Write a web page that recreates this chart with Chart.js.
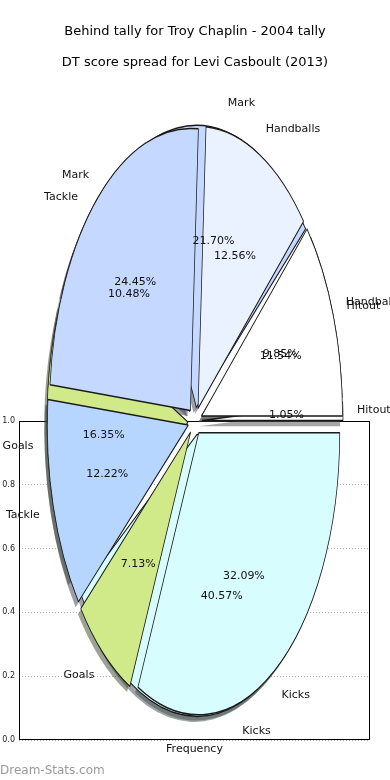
<!DOCTYPE html>
<html>
<head>
<meta charset="utf-8">
<script src="https://cdn.jsdelivr.net/npm/chart.js@4.4.1/dist/chart.umd.min.js"></script>
<style>
  html, body { margin: 0; padding: 0; background: #fff; }
  #wrap { position: relative; width: 390px; height: 780px; overflow: hidden; font-family: "DejaVu Sans", sans-serif; }
  canvas { position: absolute; left: 0; top: 0; }
  .title { position: absolute; left: 0; width: 390px; text-align: center; font-size: 13px; line-height: 15px; color: #000; }
  #mark { position: absolute; left: 0; top: 763px; font-size: 12px; line-height: 14px; color: #9a9a9a; }
</style>
</head>
<body>
<div id="wrap">
  <canvas id="axesChart" width="390" height="780"></canvas>
  <canvas id="pieChart" width="390" height="780"></canvas>
  <div class="title" style="top:23px">Behind tally for Troy Chaplin - 2004 tally</div>
  <div class="title" style="top:54px">DT score spread for Levi Casboult (2013)</div>
  <div id="mark">Dream-Stats.com</div>
</div>
<script>
// slices in the order chart.js draws them (clockwise from east)
const sliceLabels = ["Kicks", "Goals", "Tackle", "Mark", "Handballs", "Hitout"];
const behindTally = [40.57, 16.35, 10.48, 21.7, 9.85, 1.05];
const dtSpread = [32.09, 7.13, 12.22, 24.45, 12.56, 11.54];
const sliceColors = ["#d8fdff", "#d0ea8a", "#b7d6ff", "#c5d8ff", "#eaf1ff", "#ffffff"];
const yTicks = [0, 0.2, 0.4, 0.6, 0.8, 1.0];

Chart.defaults.font.family = "'DejaVu Sans', sans-serif";

const R = 141;        // pie radius before stretching
const EXPLODE = 7;    // gap for every slice
const STRETCH = 2;    // pies are twice as tall as wide

function shade(hex) {
  const n = parseInt(hex.slice(1), 16);
  const r = Math.round(((n >> 16) & 255) * 0.3);
  const g = Math.round(((n >> 8) & 255) * 0.3);
  const b = Math.round((n & 255) * 0.3);
  return "rgba(" + r + "," + g + "," + b + ",0.5)";
}

// AXES BEHIND THE PIES

const frame = {
  id: "frame",
  afterDraw(chart) {
    const { ctx, chartArea: a } = chart;
    ctx.save();
    ctx.strokeStyle = "#000";
    ctx.lineWidth = 1;
    ctx.strokeRect(a.left + 0.5, a.top + 0.5, a.right - a.left - 1, a.bottom - a.top - 1);
    ctx.restore();
  },
};

new Chart(document.getElementById("axesChart"), {
  type: "scatter",
  data: { datasets: [] },
  options: {
    responsive: false,
    animation: false,
    layout: { padding: { left: 0, right: 20, top: 421, bottom: 0 } },
    plugins: { legend: { display: false }, tooltip: { enabled: false } },
    scales: {
      x: {
        min: 0,
        max: 1,
        ticks: { display: false },
        grid: { display: false },
        border: { display: false },
        title: { display: true, text: "Frequency", color: "#111", font: { size: 11 }, padding: { top: 0, bottom: 24 } },
        afterFit: (s) => { s.height = 40; },
      },
      y: {
        min: 0,
        max: 1,
        afterBuildTicks: (s) => { s.ticks = yTicks.map((v) => ({ value: v })); },
        ticks: { callback: (v) => v.toFixed(1), font: { size: 8 }, color: "#222", padding: 4 },
        grid: { color: "#acacac", drawTicks: false, lineWidth: 1 },
        border: { display: false, dash: [1, 2] },
        afterFit: (s) => { s.width = 19; },
      },
    },
  },
  plugins: [frame],
});

// THE TWO PIES, drawn on top of each other and stretched

const ellipsePie = {
  id: "ellipsePie",
  beforeDatasetsDraw(chart) {
    const ctx = chart.ctx;
    const metas = [chart.getDatasetMeta(0), chart.getDatasetMeta(1)];
    metas.forEach((m) => m.data.forEach((arc) => { arc.innerRadius = 0; arc.outerRadius = R; }));
    const cx = metas[0].data[0].x;
    const cy = metas[0].data[0].y;
    ctx.save();
    ctx.translate(cx, cy);
    ctx.scale(1, STRETCH);
    ctx.translate(-cx, -cy);
    // shadows first, under every slice
    metas.forEach((m) => m.data.forEach((arc) => {
      const mid = (arc.startAngle + arc.endAngle) / 2;
      const ghost = Object.create(arc);
      ghost.options = Object.assign({}, arc.options, { backgroundColor: shade(arc.options.backgroundColor), borderWidth: 0 });
      ctx.save();
      ctx.translate(Math.cos(mid) * EXPLODE - 2.8, Math.sin(mid) * EXPLODE + 2.8);
      ghost.draw(ctx);
      ctx.restore();
    }));
    metas.forEach((m) => m.data.forEach((arc) => {
      const mid = (arc.startAngle + arc.endAngle) / 2;
      ctx.save();
      ctx.translate(Math.cos(mid) * EXPLODE, Math.sin(mid) * EXPLODE);
      arc.draw(ctx);
      ctx.restore();
    }));
    ctx.restore();
  },
  beforeDatasetDraw() {
    return false;
  },
  afterDatasetsDraw(chart) {
    const ctx = chart.ctx;
    ctx.save();
    ctx.font = "11px 'DejaVu Sans'";
    ctx.fillStyle = "#111";
    ctx.textBaseline = "middle";
    [0, 1].forEach((i) => {
      const values = chart.data.datasets[i].data;
      const total = values.reduce((a, b) => a + b, 0);
      chart.getDatasetMeta(i).data.forEach((arc, j) => {
        const mid = (arc.startAngle + arc.endAngle) / 2;
        const c = Math.cos(mid);
        const s = Math.sin(mid);
        ctx.textAlign = c > 0 ? "left" : "right";
        ctx.fillText(chart.data.labels[j], arc.x + c * (1.1 * R + EXPLODE), arc.y + s * (1.1 * R + EXPLODE) * STRETCH);
        ctx.textAlign = "center";
        ctx.fillText(((values[j] / total) * 100).toFixed(2) + "%", arc.x + c * (0.6 * R + EXPLODE), arc.y + s * (0.6 * R + EXPLODE) * STRETCH);
      });
    });
    ctx.restore();
  },
};

new Chart(document.getElementById("pieChart"), {
  type: "pie",
  data: {
    labels: sliceLabels,
    datasets: [
      {
        label: "Behind tally",
        data: behindTally,
        backgroundColor: sliceColors,
        borderColor: "#1a1a1a",
        borderWidth: 0.75,
      },
      {
        label: "DT score",
        data: dtSpread,
        backgroundColor: sliceColors,
        borderColor: "#1a1a1a",
        borderWidth: 0.75,
      },
    ],
  },
  options: {
    responsive: false,
    animation: false,
    radius: R,
    rotation: 90,
    offset: 0,
    hoverOffset: 0,
    events: [],
    layout: { padding: { top: 62, bottom: 0, left: 0, right: 0 } },
    plugins: { legend: { display: false }, tooltip: { enabled: false } },
  },
  plugins: [ellipsePie],
});
</script>
</body>
</html>
